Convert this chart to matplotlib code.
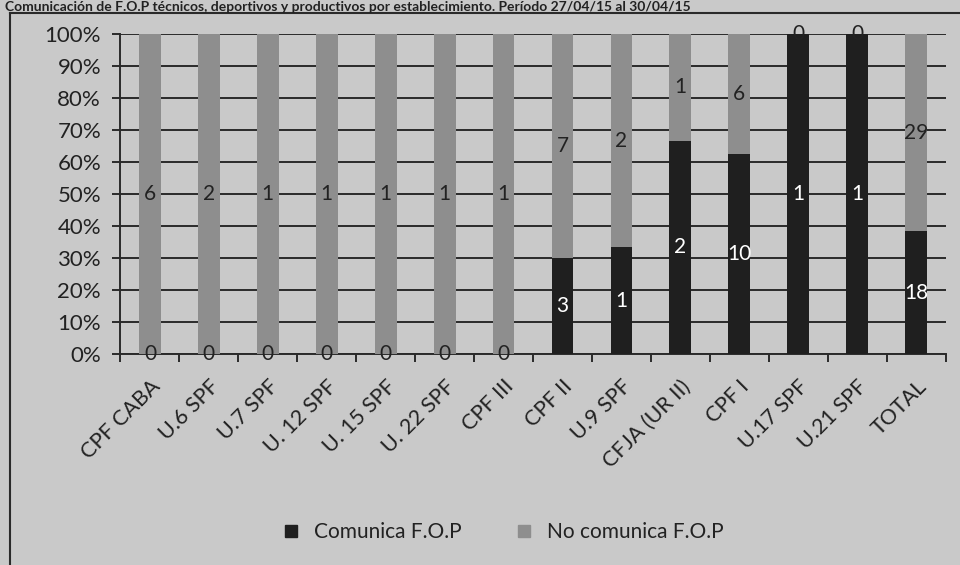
import numpy as np
import matplotlib.pyplot as plt
from matplotlib.lines import Line2D
from matplotlib.ticker import MultipleLocator, PercentFormatter

# Data
establecimientos = ['CPF CABA', 'U.6 SPF', 'U.7 SPF', 'U. 12 SPF', 'U. 15 SPF',
                    'U. 22 SPF', 'CPF III', 'CPF II', 'U.9 SPF', 'CFJA (UR II)',
                    'CPF I', 'U.17 SPF', 'U.21 SPF', 'TOTAL']
comunica = [0, 0, 0, 0, 0, 0, 0, 3, 1, 2, 10, 1, 1, 18]
no_comunica = [6, 2, 1, 1, 1, 1, 1, 7, 2, 1, 6, 0, 0, 29]
titulo = ('Comunicación de F.O.P técnicos, deportivos y productivos '
          'por establecimiento. Período 27/04/15 al 30/04/15')

plt.rcParams['font.family'] = ['Lato', 'DejaVu Sans']

bg = '#c9c9c9'
dark = '#1f1f1f'
light = '#8e8e8e'
line_col = '#2a2a2a'
txt = '#222222'

com = np.array(comunica, dtype=float)
nocom = np.array(no_comunica, dtype=float)
total = com + nocom
pct_com = com / total * 100
pct_nocom = nocom / total * 100
x = np.arange(len(establecimientos))

fig = plt.figure(figsize=(9.6, 5.65), dpi=100, facecolor=bg)
ax = fig.add_axes([0.1255, 0.3735, 0.8595, 0.566])
ax.set_facecolor(bg)

w = 0.37
ax.bar(x, pct_com, w, color=dark, zorder=3, label='Comunica F.O.P')
ax.bar(x, pct_nocom, w, bottom=pct_com, color=light, zorder=3,
       label='No comunica F.O.P')

# Data labels, centred in each segment
for i in range(len(x)):
    y1 = pct_com[i] / 2
    c1 = 'white' if com[i] > 0 else txt
    ax.text(x[i], y1, f'{int(com[i])}', ha='center', va='center',
            fontsize=15, color=c1, zorder=5)
    y2 = pct_com[i] + pct_nocom[i] / 2
    ax.text(x[i], y2, f'{int(nocom[i])}', ha='center', va='center',
            fontsize=15, color=txt, zorder=5)

ax.set_xlim(-0.5, len(x) - 0.5)
ax.set_ylim(0, 100)
ax.yaxis.set_major_locator(MultipleLocator(10))
ax.yaxis.set_major_formatter(PercentFormatter(decimals=0))
ax.grid(axis='y', color=line_col, linewidth=1.4, zorder=1)
ax.set_axisbelow(True)

for side in ['top', 'right']:
    ax.spines[side].set_visible(False)
ax.spines['left'].set_color(line_col)
ax.spines['bottom'].set_color(line_col)
ax.spines['left'].set_linewidth(1.4)
ax.spines['bottom'].set_linewidth(1.4)

ax.tick_params(axis='y', direction='out', length=6, width=1.4, colors=line_col,
               labelsize=16, labelcolor=txt, pad=8)
ax.set_xticks(x)
ax.set_xticklabels(establecimientos, rotation=45, ha='right',
                   rotation_mode='anchor', fontsize=15.5, color=txt)
ax.tick_params(axis='x', length=0, pad=16)
ax.set_xticks(np.arange(-0.5, len(x) + 0.5, 1), minor=True)
ax.tick_params(axis='x', which='minor', direction='out', length=6, width=1.4,
               colors=line_col)

handles = [Line2D([], [], marker='s', linestyle='', markersize=8,
                  markerfacecolor=dark, markeredgecolor=dark),
           Line2D([], [], marker='s', linestyle='', markersize=8,
                  markerfacecolor=light, markeredgecolor=light)]
fig.legend(handles, ['Comunica F.O.P', 'No comunica F.O.P'],
           loc='center', bbox_to_anchor=(0.518, 0.058), ncol=2, frameon=False,
           fontsize=15, handletextpad=0.1, columnspacing=2.0,
           labelcolor=txt)

# Outer chart border (partially visible in the scan)
fig.add_artist(Line2D([0.0105, 0.0105], [0, 0.977], color=line_col,
                      linewidth=1.5, transform=fig.transFigure))
fig.add_artist(Line2D([0.0105, 1.0], [0.977, 0.977], color=line_col,
                      linewidth=1.5, transform=fig.transFigure))

# Title at the very top of the scan
fig.text(0.005, 0.999, titulo, ha='left', va='top', fontsize=10,
         color=txt, fontweight='bold')

fig.savefig('out.png', dpi=100, facecolor=bg)
